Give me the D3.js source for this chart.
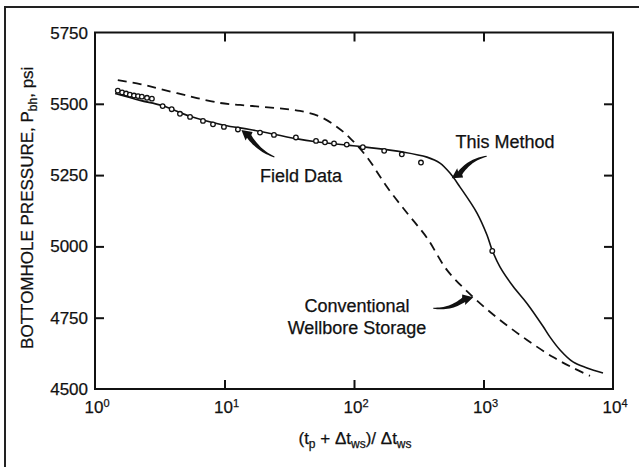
<!DOCTYPE html>
<html>
<head>
<meta charset="utf-8">
<script src="https://cdn.jsdelivr.net/npm/d3@7"></script>
<style>
  body { margin: 0; background: #fff; }
  text { font-family: "Liberation Sans", Arial, Helvetica, sans-serif; fill: #111; stroke: #111; stroke-width: 0.25px; }
</style>
</head>
<body>
<div id="chart"></div>
<script>
// data
var xTicks = [1, 10, 100, 1000, 10000]
var xTickExp = ['0', '1', '2', '3', '4']
var yTicks = [4500, 4750, 5000, 5250, 5500, 5750]

// field data: ratio, pressure
var fieldX = [1.5, 1.62, 1.74, 1.86, 2.0, 2.15, 2.3, 2.52, 2.75, 3.33, 3.91, 4.53, 5.42, 6.82, 8.15, 9.9, 12.7, 18.8, 24.1, 35.6, 50.9, 59.7, 70.1, 87.9, 117, 171, 234, 329, 1169]
var fieldP = [5546, 5540, 5536, 5532, 5529, 5527, 5525, 5521, 5518, 5492, 5481, 5465, 5454, 5440, 5428, 5419, 5410, 5399, 5391, 5382, 5370, 5365, 5361, 5357, 5348, 5335, 5323, 5294, 4984]

// "This Method" curve
var methodX = [1.43, 2.23, 3.29, 5.42, 9.91, 15.7, 35.6, 50.9, 88.3, 117, 239, 366, 461, 551, 659, 891, 1064, 1164, 1340, 1690, 2168, 2880, 3265, 3900, 4913, 6300, 8370]
var methodP = [5536, 5512, 5494, 5456, 5425, 5410, 5378, 5367, 5355, 5349, 5331, 5313, 5292, 5257, 5208, 5117, 5040, 4988, 4928, 4860, 4800, 4720, 4682, 4637, 4595, 4574, 4556]

// conventional wellbore storage curve
var convX = [1.5, 2.23, 3.01, 5.42, 9.23, 13.2, 18.8, 26.8, 38.3, 54.6, 73.9, 93.1, 126, 180, 257, 366, 523, 829, 1340, 2168, 3440, 4913, 6640]
var convP = [5583, 5569, 5555, 5526, 5503, 5496, 5490, 5484, 5475, 5455, 5419, 5380, 5313, 5208, 5117, 5030, 4917, 4823, 4742, 4672, 4612, 4574, 4546]

// annotation anchors (data units)
var notes = [
  { lines: ['This Method'], x: 1466, p: 5345, anchor: 'middle' },
  { lines: ['Field Data'], x: 18.8, p: 5226, anchor: 'start' },
  { lines: ['Conventional', 'Wellbore Storage'], x: 105.5, p: 4770, anchor: 'middle' }
]
var arrows = [
  { x: 568, p: 5239, dx: 35, dy: -22, bend: -6 },
  { x: 13.5, p: 5408, dx: 33, dy: 27, bend: 5 },
  { x: 834, p: 4822, dx: -40, dy: 11, bend: -6 }
]

var W = 639, H = 467
var margin = { top: 32.5, right: 26, bottom: 78, left: 95 }

var svg = d3.select('#chart').append('svg')
    .attr('width', W)
    .attr('height', H)

// outer frame (top and left only)
svg.append('path')
    .attr('d', 'M5,467V7H639')
    .attr('fill', 'none')
    .attr('stroke', '#222')
    .attr('stroke-width', 2)

var xScale = d3.scaleLog()
    .domain([1, 10000])
    .range([margin.left, W - margin.right])
var yScale = d3.scaleLinear()
    .domain([4500, 5750])
    .range([H - margin.bottom, margin.top])

var x0 = xScale.range()[0], x1 = xScale.range()[1]
var y0 = yScale.range()[0], y1 = yScale.range()[1]

// ticks on all four sides, pointing inward
var inner = function (g) { g.select('.domain').remove() }
svg.append('g')
    .attr('transform', 'translate(0,' + y0 + ')')
    .call(d3.axisBottom(xScale).tickValues(xTicks.slice(1, -1)).tickSize(-9).tickFormat(''))
    .call(inner)
svg.append('g')
    .attr('transform', 'translate(0,' + y1 + ')')
    .call(d3.axisTop(xScale).tickValues(xTicks.slice(1, -1)).tickSize(-9).tickFormat(''))
    .call(inner)
svg.append('g')
    .attr('transform', 'translate(' + x0 + ',0)')
    .call(d3.axisLeft(yScale).tickValues(yTicks.slice(1, -1)).tickSize(-9).tickFormat(''))
    .call(inner)
svg.append('g')
    .attr('transform', 'translate(' + x1 + ',0)')
    .call(d3.axisRight(yScale).tickValues(yTicks.slice(1, -1)).tickSize(-9).tickFormat(''))
    .call(inner)
svg.selectAll('.tick line').attr('stroke', '#111').attr('stroke-width', 2)

// plot frame
svg.append('rect')
    .attr('x', x0).attr('y', y1)
    .attr('width', x1 - x0).attr('height', y0 - y1)
    .attr('fill', 'none')
    .attr('stroke', '#111')
    .attr('stroke-width', 2)

// tick labels
svg.selectAll('.ylab')
    .data(yTicks)
    .enter()
  .append('text')
    .attr('class', 'ylab')
    .attr('x', x0 - 7)
    .attr('y', function (d) { return yScale(d) + 6 })
    .attr('text-anchor', 'end')
    .style('font-size', '17px')
    .text(function (d) { return d })

var xl = svg.selectAll('.xlab')
    .data(xTicks)
    .enter()
  .append('text')
    .attr('class', 'xlab')
    .attr('x', function (d) { return xScale(d) + 2 })
    .attr('y', y0 + 24)
    .attr('text-anchor', 'middle')
    .style('font-size', '17px')
xl.append('tspan').text('10')
xl.append('tspan')
    .attr('dy', -6)
    .style('font-size', '11px')
    .text(function (d, i) { return xTickExp[i] })

// axis titles
var yt = svg.append('text')
    .attr('transform', 'translate(33,' + ((y0 + y1) / 2 - 3) + ') rotate(-90)')
    .attr('text-anchor', 'middle')
    .style('font-size', '17px')
yt.append('tspan').text('BOTTOMHOLE PRESSURE, P')
yt.append('tspan').attr('dy', 4).style('font-size', '12px').text('bh')
yt.append('tspan').attr('dy', -4).text(', psi')

var xt = svg.append('text')
    .attr('x', (x0 + x1) / 2 + 1)
    .attr('y', y0 + 55)
    .attr('text-anchor', 'middle')
    .style('font-size', '17px')
xt.append('tspan').text('(t')
xt.append('tspan').attr('dy', 4).style('font-size', '12px').text('p')
xt.append('tspan').attr('dy', -4).text(' + \u0394t')
xt.append('tspan').attr('dy', 4).style('font-size', '12px').text('ws')
xt.append('tspan').attr('dy', -4).text(')/ \u0394t')
xt.append('tspan').attr('dy', 4).style('font-size', '12px').text('ws')

// curves
var line = d3.line()
    .x(function (d) { return xScale(d[0]) })
    .y(function (d) { return yScale(d[1]) })
    .curve(d3.curveCatmullRom)

svg.append('path')
    .datum(d3.zip(convX, convP))
    .attr('d', line)
    .attr('fill', 'none')
    .attr('stroke', '#111')
    .attr('stroke-width', 1.8)
    .attr('stroke-dasharray', '9,6')

svg.append('path')
    .datum(d3.zip(methodX, methodP))
    .attr('d', line)
    .attr('fill', 'none')
    .attr('stroke', '#111')
    .attr('stroke-width', 1.6)

svg.selectAll('circle')
    .data(d3.zip(fieldX, fieldP))
    .enter()
  .append('circle')
    .attr('cx', function (d) { return xScale(d[0]) })
    .attr('cy', function (d) { return yScale(d[1]) })
    .attr('r', 2.3)
    .attr('fill', '#fff')
    .attr('stroke', '#111')
    .attr('stroke-width', 1.3)

// annotations
notes.forEach(function (n) {
  var t = svg.append('text')
      .attr('x', xScale(n.x))
      .attr('y', yScale(n.p))
      .attr('text-anchor', n.anchor)
      .style('font-size', '18px')
  n.lines.forEach(function (s, i) {
    t.append('tspan')
        .attr('x', xScale(n.x))
        .attr('dy', i ? 22 : 0)
        .text(s)
  })
})

// tapered curved arrows
function arrowPath(a) {
  var tx = xScale(a.x), ty = yScale(a.p)
  var sx = tx + a.dx, sy = ty + a.dy
  var L = Math.hypot(a.dx, a.dy)
  var ux = a.dx / L, uy = a.dy / L, nx = -uy, ny = ux
  var hl = 10, hw = 5.5
  var bx = tx + ux * hl, by = ty + uy * hl
  var cx = (bx + sx) / 2 + nx * a.bend, cy = (by + sy) / 2 + ny * a.bend
  var left = [], right = [], N = 16
  for (var i = 0; i <= N; i++) {
    var t = i / N
    var px = (1 - t) * (1 - t) * bx + 2 * t * (1 - t) * cx + t * t * sx
    var py = (1 - t) * (1 - t) * by + 2 * t * (1 - t) * cy + t * t * sy
    var gx = 2 * (1 - t) * (cx - bx) + 2 * t * (sx - cx)
    var gy = 2 * (1 - t) * (cy - by) + 2 * t * (sy - cy)
    var gl = Math.hypot(gx, gy)
    var w = 2.6 * (1 - t) + 0.5 * t
    left.push([px - gy / gl * w, py + gx / gl * w])
    right.push([px + gy / gl * w, py - gx / gl * w])
  }
  var pts = [[tx, ty], [bx + nx * hw, by + ny * hw]]
    .concat(left, right.reverse(), [[bx - nx * hw, by - ny * hw]])
  return 'M' + pts.map(function (p) { return p[0].toFixed(1) + ',' + p[1].toFixed(1) }).join('L') + 'Z'
}

svg.selectAll('.arrow')
    .data(arrows)
    .enter()
  .append('path')
    .attr('class', 'arrow')
    .attr('d', arrowPath)
    .attr('fill', '#111')
</script>
</body>
</html>
